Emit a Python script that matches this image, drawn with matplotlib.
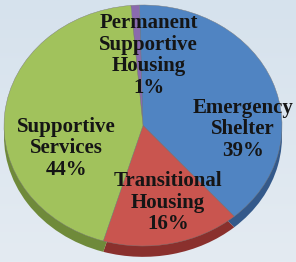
import numpy as np
import matplotlib.pyplot as plt
from matplotlib.colors import LinearSegmentedColormap

# data
labels = ['Permanent\nSupportive\nHousing', 'Emergency\nShelter', 'Transitional\nHousing', 'Supportive\nServices']
shares = [1, 39, 16, 44]
colors = ['#8a6aae', '#5084c2', '#c9554f', '#a1c25c']
rim_colors = ['#5e4680', '#34598a', '#8a302d', '#6f8a3a']
# label anchor points (axes data units)
label_pos = [(0.04, 0.58), (0.72, -0.03), (0.18, -0.64), (-0.55, -0.19)]

fig = plt.figure(figsize=(2.96, 2.62), dpi=100)
ax = fig.add_axes([0, 0, 1, 1])

# pie: center (143, 125.5) px, rx 139, ry 120.5
xlim = (-143 / 139, 153 / 139)
ylim = (-136.5 / 120.5, 125.5 / 120.5)

# background gradient
bg = LinearSegmentedColormap.from_list('bg', ['#d6e2ed', '#e4ebf2'])
grad = np.linspace(0, 1, 256).reshape(-1, 1)
ax.imshow(grad, cmap=bg, aspect='auto', extent=(xlim[0], xlim[1], ylim[0], ylim[1]),
          origin='upper', zorder=0)

start = 95

# side rim (3d depth)
ax.pie(shares, colors=rim_colors, startangle=start, counterclock=False,
       center=(0, -0.09), wedgeprops=dict(linewidth=0, zorder=1))
# top face
wedges, _ = ax.pie(shares, colors=colors, startangle=start, counterclock=False,
                   wedgeprops=dict(linewidth=0.3, edgecolor='#7a7a7a', zorder=2))

for lab, s, (x, y) in zip(labels, shares, label_pos):
    ax.text(x, y, f'{lab}\n{s}%', ha='center', va='center', fontsize=15,
            family='Liberation Serif', fontweight='bold', color='#151515',
            linespacing=1.1, zorder=5)

ax.set_aspect('auto')
ax.set_xlim(*xlim)
ax.set_ylim(*ylim)
ax.axis('off')

fig.savefig('out.png', dpi=100)
